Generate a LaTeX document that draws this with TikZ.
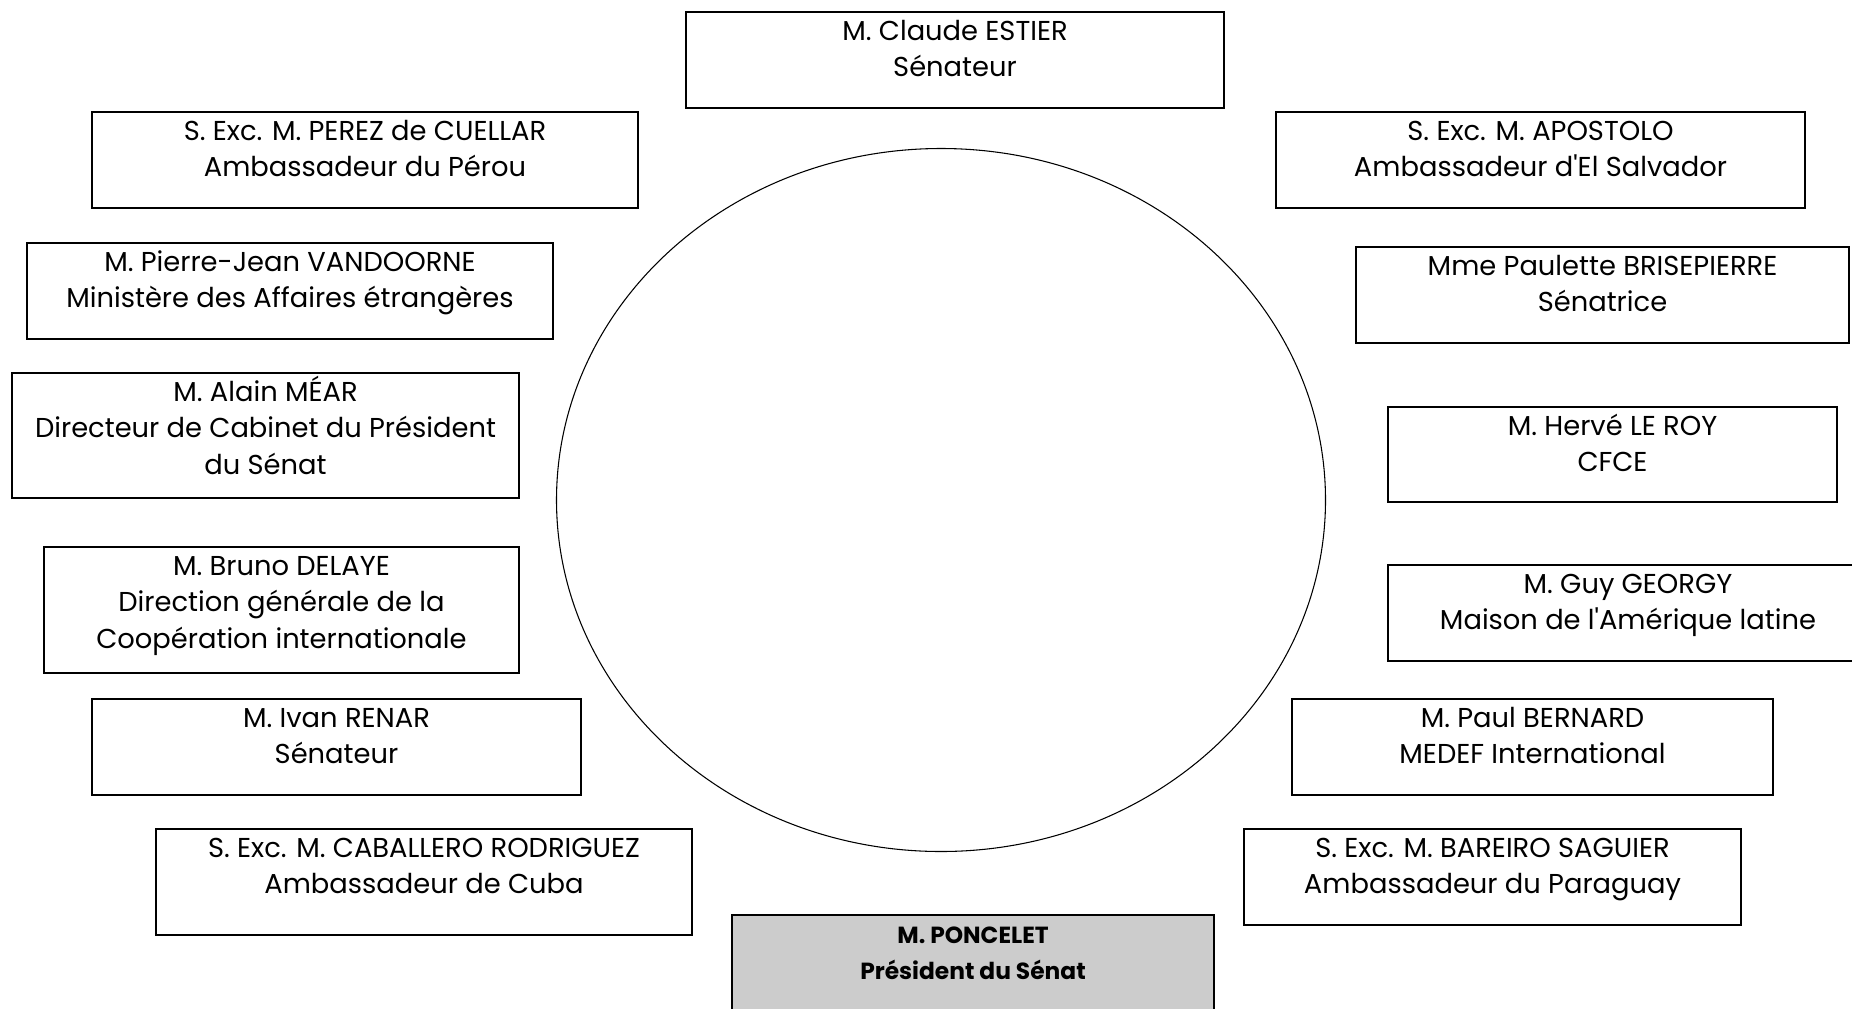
\documentclass[tikz,border=0pt]{standalone}
\usepackage{fontspec}
\setmainfont{Poppins}[Ligatures=TeXOff]
\usetikzlibrary{shapes.geometric}
\newdimen\px \px=0.75pt
\newcommand\guest[7]{\node[#1] (#2) at (#3,#4) {\parbox[c][#6\px][t]{#5\px}{\centering\rule{0pt}{28\px}#7\par}};}
\begin{document}
\begin{tikzpicture}[x=0.75pt,y=-0.75pt,
  seatbox/.style={draw=black, line width=1.2pt, inner sep=0pt, outer sep=0pt, anchor=north west, font=\fontsize{20.5}{27.45}\selectfont},
  chairbox/.style={seatbox, fill=black!20, font=\bfseries\fontsize{17.5}{27.45}\selectfont},
  tablering/.style={ellipse, draw=black, line width=0.8pt, inner sep=0pt, minimum width=769\px, minimum height=703\px}]
\useasboundingbox[fill=white] (0,0) rectangle (1852,1008);
\node[tablering] (table) at (941,500) {};
\guest{seatbox}{estier}{686}{12}{538}{96}{M. Claude ESTIER\\Sénateur}
\guest{seatbox}{perez}{92}{112}{546}{96}{S. Exc. M. PEREZ de CUELLAR\\Ambassadeur du Pérou}
\guest{seatbox}{apostolo}{1276}{112}{529}{96}{S. Exc. M. APOSTOLO\\Ambassadeur d'El Salvador}
\guest{seatbox}{vandoorne}{27}{243}{526}{96}{M. Pierre-Jean VANDOORNE\\Ministère des Affaires étrangères}
\guest{seatbox}{brisepierre}{1356}{247}{493}{96}{Mme Paulette BRISEPIERRE\\Sénatrice}
\guest{seatbox}{mear}{12}{373}{507}{125}{M. Alain MÉAR\\Directeur de Cabinet du Président\\du Sénat}
\guest{seatbox}{leroy}{1388}{407}{449}{95}{M. Hervé LE ROY\\CFCE}
\guest{seatbox}{delaye}{44}{547}{475}{126}{M. Bruno DELAYE\\Direction générale de la\\Coopération internationale}
\guest{seatbox}{georgy}{1388}{565}{480}{96}{M. Guy GEORGY\\Maison de l'Amérique latine}
\guest{seatbox}{renar}{92}{699}{489}{96}{M. Ivan RENAR\\Sénateur}
\guest{seatbox}{bernard}{1292}{699}{481}{96}{M. Paul BERNARD\\MEDEF International}
\guest{seatbox}{caballero}{156}{829}{536}{106}{S. Exc. M. CABALLERO RODRIGUEZ\\Ambassadeur de Cuba}
\guest{seatbox}{bareiro}{1244}{829}{497}{96}{S. Exc. M. BAREIRO SAGUIER\\Ambassadeur du Paraguay}
\guest{chairbox}{poncelet}{732}{915}{482}{110}{M. PONCELET\\Président du Sénat}
\end{tikzpicture}
\end{document}
